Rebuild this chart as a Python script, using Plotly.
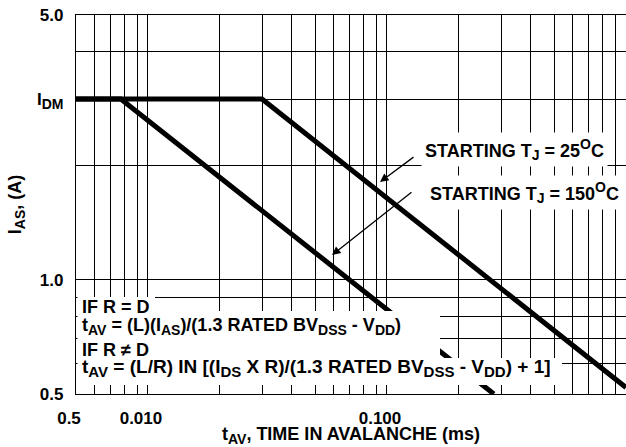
import plotly.graph_objects as go

# ---- data ----
t_25 = [0.005, 0.030, 1.0]          # time in avalanche (ms), starting Tj = 25 C
i_25 = [3.0, 3.0, 0.52]             # I_AS (A)
t_150 = [0.005, 0.0077, 0.28]       # starting Tj = 150 C
i_150 = [3.0, 3.0, 0.50]

x_grid = [0.005, 0.006, 0.007, 0.008, 0.009,
          0.01, 0.02, 0.03, 0.04, 0.05, 0.06, 0.07, 0.08, 0.09,
          0.1, 0.2, 0.3, 0.4, 0.5, 0.6, 0.7, 0.8, 0.9, 1.0]
x_labels = {0.005: "0.5", 0.01: "0.010", 0.1: "0.100"}
y_grid = [0.5, 0.6, 0.7, 0.8, 0.9, 1.0, 2.0, 3.0, 4.0, 5.0]

W, H = 626, 447
ML, MR, MT, MB = 76, 0, 15, 53
PW, PH = W - ML - MR, H - MT - MB


def px(xp):
    return (xp - ML) / PW


def py(yp):
    return (H - MB - yp) / PH


def sub(s, size=14):
    return "<sub><span style='font-size:%dpx'>%s</span></sub>" % (size, s)


def sup(s, size=14):
    return "<sup><span style='font-size:%dpx'>%s</span></sup>" % (size, s)


y_labels = {0.5: "0.5", 1.0: "1.0", 3.0: "I" + sub("DM"), 5.0: "5.0"}

FONT = "Liberation Sans, Arial, Helvetica, sans-serif"
bold = dict(family=FONT, size=17, color="black", weight="bold")
bold18 = dict(family=FONT, size=18, color="black", weight="bold")
bold19 = dict(family=FONT, size=19, color="black", weight="bold")

fig = go.Figure()
fig.add_trace(go.Scatter(x=t_25, y=i_25, mode="lines",
                         line=dict(color="black", width=5),
                         name="STARTING TJ = 25C", showlegend=False, cliponaxis=False))
fig.add_trace(go.Scatter(x=t_150, y=i_150, mode="lines",
                         line=dict(color="black", width=5),
                         name="STARTING TJ = 150C", showlegend=False))

fig.update_xaxes(type="log", range=[-2.30103, 0.0], tickvals=x_grid,
                 ticktext=[x_labels.get(v, "") for v in x_grid],
                 showgrid=True, gridcolor="black", gridwidth=1.3,
                 showline=True, linecolor="black", linewidth=1.3, mirror=True,
                 ticks="", zeroline=False, tickfont=bold, ticklabelshift=-7,
                 ticklabelstandoff=8,
                 title=dict(text="t" + sub("AV") + ", TIME IN AVALANCHE (ms)", font=bold18, standoff=0))
fig.update_yaxes(type="log", range=[-0.30103, 0.69897], tickvals=y_grid,
                 ticktext=[y_labels.get(v, "") for v in y_grid],
                 showgrid=True, gridcolor="black", gridwidth=1.3,
                 showline=True, linecolor="black", linewidth=1.3, mirror=True,
                 ticks="", zeroline=False, tickfont=bold, ticklabelstandoff=8,
                 title=dict(text="I" + sub("AS") + ", (A)", font=bold18, standoff=10))

# white areas behind the formula block
for x0, y0, x1, y1 in [(77.5, 297, 155, 312), (77.5, 311, 440, 358), (77.5, 358, 562, 385)]:
    fig.add_shape(type="rect", xref="paper", yref="paper",
                  x0=px(x0), x1=px(x1), y0=py(y1), y1=py(y0),
                  fillcolor="white", line=dict(width=0), layer="above")

rows = [
    ("IF R = D", 307, bold18),
    ("t" + sub("AV") + " = (L)(I" + sub("AS") + ")/(1.3 RATED BV" + sub("DSS") + " - V" + sub("DD") + ")", 326, bold18),
    ("IF R \u2260 D", 350, bold18),
    ("t" + sub("AV", 15) + " = (L/R) IN [(I" + sub("DS", 15) + " X R)/(1.3 RATED BV" + sub("DSS", 15)
     + " - V" + sub("DD", 15) + ") + 1]", 368, bold19),
]
for txt, yp, fnt in rows:
    fig.add_annotation(text=txt, xref="paper", yref="paper", x=px(80), y=py(yp),
                       xanchor="left", yanchor="middle", showarrow=False, font=fnt)

fig.add_annotation(text="STARTING T" + sub("J") + " = 25" + sup("O") + "C", xref="paper", yref="paper",
                   x=px(421), y=py(149), xanchor="left", yanchor="middle", showarrow=False,
                   font=bold18, bgcolor="white", borderpad=3)
fig.add_annotation(text="STARTING T" + sub("J") + " = 150" + sup("O") + "C", xref="paper", yref="paper",
                   x=px(426), y=py(193), xanchor="left", yanchor="middle", showarrow=False,
                   font=bold18, bgcolor="white", borderpad=3)

# arrows
fig.add_annotation(text="", xref="paper", yref="paper", x=px(380), y=py(182),
                   ax=35, ay=-26, showarrow=True, arrowhead=2, arrowsize=1.3,
                   arrowwidth=1.3, arrowcolor="black")
fig.add_annotation(text="", xref="paper", yref="paper", x=px(332), y=py(255),
                   ax=81, ay=-64, showarrow=True, arrowhead=2, arrowsize=1.3,
                   arrowwidth=1.3, arrowcolor="black")

fig.update_layout(width=W, height=H, margin=dict(l=ML, r=MR, t=MT, b=MB, autoexpand=False),
                  plot_bgcolor="white", paper_bgcolor="white", showlegend=False,
                  font=dict(family=FONT, color="black"))
fig.write_html("out.html", config={"displayModeBar": False},
               post_script="document.body.style.margin='0';")
